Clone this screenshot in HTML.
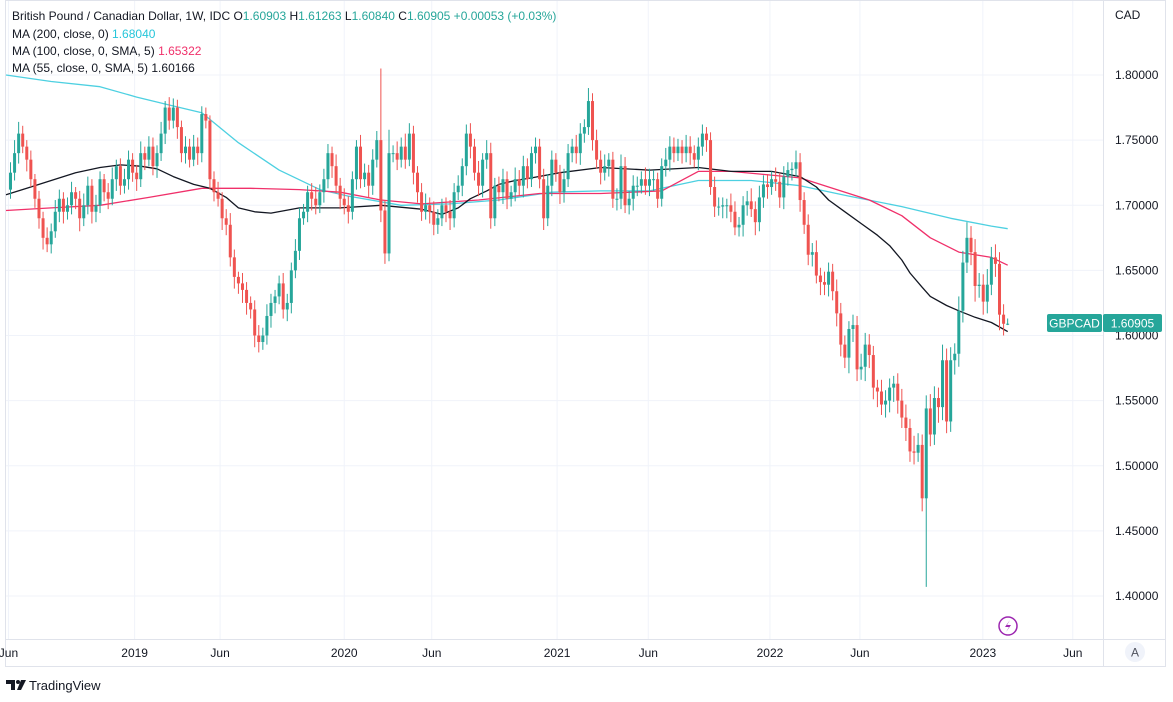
<!DOCTYPE html>
<html><head><meta charset="utf-8"><style>
body{margin:0;background:#fff;width:1173px;height:697px;overflow:hidden;font-family:"Liberation Sans",sans-serif;}
svg text{font-family:"Liberation Sans",sans-serif;}
</style></head><body>
<svg id="chart" width="1173" height="697" viewBox="0 0 1173 697" xmlns="http://www.w3.org/2000/svg">
<rect x="0" y="0" width="1173" height="697" fill="#fff"/>
<g id="grid"></g>
<g id="mas"></g>
<g id="candles"></g>
<g id="axes"></g>
<g font-size="12" fill="#131722">
<text x="12" y="20">British Pound / Canadian Dollar, 1W, IDC  O<tspan fill="#26a69a">1.60903</tspan>  H<tspan fill="#26a69a">1.61263</tspan>  L<tspan fill="#26a69a">1.60840</tspan>  C<tspan fill="#26a69a">1.60905  +0.00053 (+0.03%)</tspan></text>
<text x="12" y="38">MA (200, close, 0)  <tspan fill="#26c6da">1.68040</tspan></text>
<text x="12" y="55">MA (100, close, 0, SMA, 5)  <tspan fill="#f0306a">1.65322</tspan></text>
<text x="12" y="72">MA (55, close, 0, SMA, 5)  1.60166</text>
</g>
<g>
<rect x="1047" y="314" width="55" height="18" rx="2" fill="#26a69a"/>
<text x="1074.5" y="327.5" text-anchor="middle" font-size="12" fill="#fff">GBPCAD</text>
<rect x="1103" y="314" width="59" height="18" rx="2" fill="#26a69a"/>
<text x="1132.5" y="327.5" text-anchor="middle" font-size="12" fill="#fff">1.60905</text>
</g>
<g>
<circle cx="1008" cy="626" r="9" fill="none" stroke="#9c27b0" stroke-width="1.5"/>
<path d="M1010 620 L1005 627 L1009 627 L1006 632 L1011 625 L1007 625 Z" fill="#9c27b0"/>
</g>
<g>
<circle cx="1135" cy="652" r="10" fill="#f0f3fa"/>
<text x="1135" y="656.5" text-anchor="middle" font-size="12" fill="#50535e">A</text>
</g>
<g>
<path d="M6 680 h9 v10 h-4 v-6 h-5z" fill="#131722"/><circle cx="18" cy="682" r="2" fill="#131722"/><path d="M21 680 h5 l-5 10 h-4z" fill="#131722"/>
<text x="29" y="690" font-size="13" fill="#131722">TradingView</text>
</g>
</svg>
<script>
const closes=[1.725,1.74,1.755,1.745,1.735,1.72,1.705,1.69,1.675,1.67,
1.68,1.695,1.705,1.695,1.70,1.71,1.705,1.69,1.70,1.715,
1.695,1.70,1.72,1.71,1.705,1.72,1.73,1.715,1.72,1.735,
1.725,1.72,1.74,1.735,1.745,1.73,1.74,1.755,1.775,1.765,
1.775,1.76,1.74,1.745,1.735,1.745,1.74,1.77,1.765,1.72,
1.71,1.705,1.69,1.685,1.66,1.645,1.64,1.635,1.625,1.62,
1.60,1.595,1.60,1.615,1.625,1.63,1.64,1.62,1.625,1.65,
1.665,1.69,1.695,1.71,1.705,1.70,1.71,1.72,1.74,1.73,
1.715,1.705,1.70,1.695,1.72,1.745,1.72,1.725,1.715,1.735,
1.75,1.696,1.663,1.74,1.74,1.735,1.745,1.735,1.755,1.725,
1.71,1.695,1.70,1.695,1.685,1.69,1.70,1.695,1.69,1.71,
1.715,1.73,1.755,1.745,1.725,1.715,1.735,1.74,1.69,1.715,
1.71,1.72,1.705,1.71,1.72,1.715,1.73,1.72,1.74,1.745,
1.72,1.69,1.715,1.735,1.725,1.71,1.72,1.74,1.745,1.74,
1.755,1.76,1.78,1.75,1.735,1.725,1.73,1.735,1.705,1.705,
1.73,1.70,1.705,1.715,1.715,1.72,1.715,1.72,1.72,1.705,
1.73,1.735,1.745,1.74,1.745,1.74,1.745,1.74,1.735,1.745,
1.755,1.75,1.714,1.699,1.699,1.70,1.70,1.695,1.683,1.685,
1.70,1.703,1.697,1.687,1.706,1.716,1.714,1.72,1.718,1.706,
1.722,1.727,1.728,1.733,1.704,1.685,1.662,1.664,1.646,1.641,
1.639,1.649,1.634,1.617,1.593,1.583,1.605,1.608,1.574,1.576,
1.593,1.585,1.56,1.557,1.547,1.55,1.56,1.563,1.55,1.537,
1.529,1.511,1.51,1.516,1.475,1.544,1.524,1.552,1.545,1.581,
1.534,1.581,1.586,1.619,1.656,1.675,1.664,1.638,1.639,1.626,
1.639,1.66,1.655,1.616,1.609,1.60905];
const firstOpen=1.712;
const wickUp=[8,10,9,6,5,7,4,6,5,8,
6,9,7,5,6,8,4,6,9,7,
5,8,6,4,7,9,5,6,8,7,
5,6,9,5,8,7,6,9,5,8,
7,6,5,8,6,9,7,6,5,4,
6,8,5,7,9,6,4,8,6,5,
7,8,6,9,7,5,6,8,7,6,
9,8,6,5,7,9,6,8,7,5,
9,6,8,7,6,5,9,7,6,8,
7,55,8,18,6,9,7,10,8,6,
5,7,9,6,8,7,5,6,9,7,
8,6,7,8,6,9,5,10,8,6,
7,8,6,5,9,7,8,6,5,7,
6,8,9,7,5,6,8,7,6,9,
8,6,10,6,8,7,9,5,6,8,
9,7,6,8,7,6,9,8,7,5,
6,9,8,7,6,5,9,8,6,7,
7,5,6,8,7,6,5,9,8,6,
7,8,10,6,9,7,8,6,9,7,
8,6,5,9,7,6,8,7,9,6,
8,7,6,9,8,7,6,8,7,10,
9,8,7,6,9,8,7,6,8,9,
10,7,12,9,8,10,11,9,8,12,
9,10,8,11,9,12,9,10,9,8,
12,8,10,9,8,4];
const wickDn=[7,6,8,5,9,6,7,8,9,6,
7,5,8,9,6,7,8,10,6,7,
9,8,6,7,8,5,9,7,6,8,
7,9,6,8,5,7,9,6,8,7,
6,9,7,8,6,5,9,7,6,8,
7,6,9,8,7,9,8,10,9,7,
9,8,6,7,9,8,6,7,9,8,
6,7,5,8,9,7,6,8,7,9,
6,8,7,9,6,8,7,6,9,7,
6,9,8,6,7,8,6,7,5,9,
8,7,6,9,8,7,6,8,9,7,
6,8,7,9,6,8,9,7,8,6,
7,9,8,6,7,8,9,7,6,8,
7,9,6,8,7,9,8,6,7,8,
9,7,6,8,7,9,6,8,7,9,
8,6,7,9,8,6,7,8,9,7,
6,8,9,7,6,8,7,9,6,8,
7,9,6,8,7,9,10,8,6,7,
9,8,6,10,7,8,9,6,7,8,
9,7,8,6,9,7,8,9,6,10,
8,9,7,10,9,8,12,10,9,8,
11,10,9,12,8,10,9,11,10,8,
10,8,9,7,10,68,9,8,12,10,
9,8,11,10,9,8,10,12,9,10,
9,8,10,12,9,1];
const maWeeks200=[-3,10,22,31,39,47,56,66,76,83,96,108,120,133,145,157,169,182,194,206,219,231,241,245];
const ma200Vals=[1.80,1.795,1.791,1.783,1.777,1.771,1.748,1.727,1.712,1.707,1.70,1.701,1.704,1.710,1.711,1.711,1.719,1.719,1.715,1.707,1.699,1.690,1.684,1.682];
const maWeeks100=[-3,10,22,34,47,59,71,81,91,101,115,130,145,160,169,177,184,194,201,211,219,226,233,241,245];
const ma100Vals=[1.696,1.698,1.700,1.706,1.713,1.713,1.712,1.710,1.704,1.701,1.704,1.709,1.709,1.711,1.726,1.726,1.724,1.721,1.714,1.704,1.692,1.675,1.664,1.660,1.654];
const maWeeks55=[-3,4,10,16,22,27,32,36,40,45,49,53,56,60,64,71,81,91,101,106,110,113,117,120,124,128,135,145,157,169,177,187,194,198,201,205,209,213,216,219,221,224,226,230,233,237,241,245];
const ma55Vals=[1.708,1.713,1.719,1.725,1.729,1.731,1.730,1.728,1.722,1.716,1.713,1.706,1.698,1.695,1.694,1.698,1.698,1.700,1.697,1.693,1.698,1.705,1.711,1.716,1.719,1.721,1.725,1.729,1.727,1.729,1.726,1.726,1.722,1.714,1.704,1.695,1.686,1.677,1.669,1.658,1.648,1.637,1.630,1.623,1.619,1.614,1.610,1.603];
const priceTicks=[1.40,1.45,1.50,1.55,1.60,1.65,1.70,1.75,1.80];
const timeLabels=["Jun","2019","Jun","2020","Jun","2021","Jun","2022","Jun","2023","Jun"];
const timeWeeks=[-0.5,30.5,51.5,82,103.5,134.3,156.7,186.6,208.7,238.9,261];

const NS="http://www.w3.org/2000/svg";
const X0=10.5,DX=4.07;
function xs(i){return X0+DX*i;}
function ys(v){return 75+(1.80-v)/0.05*65.125;}
function mk(tag,attrs,parent){const e=document.createElementNS(NS,tag);for(const k in attrs)e.setAttribute(k,attrs[k]);parent.appendChild(e);return e;}
const grid=document.getElementById('grid'),axes=document.getElementById('axes'),cg=document.getElementById('candles'),mg=document.getElementById('mas');
let fr=mk('rect',{x:5.5,y:0.5,width:1160,height:666,fill:'none',stroke:'#e0e3eb'},grid);


priceTicks.forEach(v=>{
  const l=mk('line',{x1:6,x2:1103,y1:ys(v),y2:ys(v),stroke:'#f0f3fa'},grid);
  
  
  const t=mk('text',{x:1115,y:ys(v)+4,'font-size':'12',fill:'#131722'},axes);
  t.textContent=v.toFixed(5);
  
  
});
timeLabels.forEach((s,k)=>{
  const x=xs(timeWeeks[k]);
  const l=mk('line',{x1:x,x2:x,y1:1,y2:639,stroke:'#f0f3fa'},grid);
  
  
  const t=mk('text',{x:x,y:657,'font-size':'12',fill:'#131722','text-anchor':'middle'},axes);
  t.textContent=s;
  
  
});
let sep=mk('line',{x1:6,x2:1166,y1:639.5,y2:639.5,stroke:'#e0e3eb'},axes);


let sep2=mk('line',{x1:1103.5,x2:1103.5,y1:1,y2:666,stroke:'#e0e3eb'},axes);


let cad=mk('text',{x:1115,y:19,'font-size':'12',fill:'#131722'},axes);
cad.textContent='CAD';


function drawMA(weeks,vals,color,name){
  const pts=weeks.map((w,k)=>Math.max(6,xs(w)).toFixed(1)+','+ys(vals[k]).toFixed(1)).join(' ');
  const p=mk('polyline',{points:pts,fill:'none',stroke:color,'stroke-width':1.3,'stroke-linejoin':'round'},mg);
  
  
}
drawMA(maWeeks200,ma200Vals,'#4dd0e1','ma-200-line');
drawMA(maWeeks100,ma100Vals,'#f0306a','ma-100-line');
drawMA(maWeeks55,ma55Vals,'#131722','ma-55-line');
closes.forEach((c,i)=>{
  const o=i===0?firstOpen:closes[i-1];
  const up=(wickUp[i]||0)/1000, dn=(wickDn[i]||0)/1000;
  const hi=Math.max(o,c)+up, lo=Math.min(o,c)-dn;
  const col=c>=o?'#26a69a':'#ef5350';
  const x=xs(i);
  const w=mk('line',{x1:x,x2:x,y1:ys(hi),y2:ys(lo),stroke:col,'stroke-width':1},cg);
  
  
  const top=ys(Math.max(o,c)),h=Math.max(1,ys(Math.min(o,c))-top);
  const b=mk('rect',{x:x-1.5,y:top,width:3,height:h,fill:col},cg);
  
  
});
</script>
</body></html>
